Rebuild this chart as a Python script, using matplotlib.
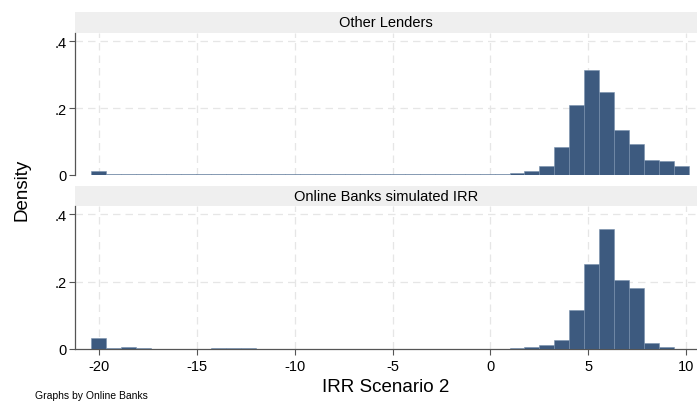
import numpy as np
import matplotlib
matplotlib.use("Agg")
import matplotlib.pyplot as plt

plt.rcParams['font.family'] = ['Liberation Sans', 'DejaVu Sans']

# Histogram bins shared by both panels
bin_start = -20.4
bin_width = 0.7635
n_bins = 40

panel_titles = ["Other Lenders", "Online Banks simulated IRR"]

other_lenders = [
    0.012, 0.002, 0.002, 0.002, 0.002, 0.002, 0.003, 0.002, 0.002, 0.002,
    0.002, 0.002, 0.002, 0.002, 0.002, 0.002, 0.002, 0.002, 0.002, 0.002,
    0.003, 0.002, 0.002, 0.002, 0.002, 0.003, 0.002, 0.002, 0.005, 0.011,
    0.027, 0.083, 0.209, 0.315, 0.248, 0.134, 0.092, 0.046, 0.041, 0.028,
]

online_banks = [
    0.034, 0.004, 0.006, 0.004, 0.001, 0.001, 0.001, 0.001, 0.003, 0.004,
    0.003, 0.001, 0.001, 0.001, 0.001, 0.001, 0.001, 0.001, 0.001, 0.001,
    0.001, 0.001, 0.001, 0.001, 0.001, 0.001, 0.001, 0.001, 0.003, 0.005,
    0.012, 0.026, 0.117, 0.252, 0.357, 0.205, 0.182, 0.019, 0.005, 0.000,
]

x_ticks = [-20, -15, -10, -5, 0, 5, 10]
x_tick_labels = ["-20", "-15", "-10", "-5", "0", "5", "10"]
y_ticks = [0, 0.2, 0.4]
y_tick_labels = ["0", ".2", ".4"]

W, H = 697, 402
fig = plt.figure(figsize=(W / 100, H / 100), dpi=100)
fig.patch.set_facecolor("white")

bar_color = "#3d5a7f"
edge_color = "#7890ad"
grid_color = "#e6e6e6"
strip_color = "#efefef"

left_px, right_px = 75, 697
panels = [
    # (strip top, strip bottom, plot bottom)
    (13, 34, 176),
    (187, 207, 350),
]

edges = bin_start + bin_width * np.arange(n_bins + 1)
lefts = edges[:-1]

def px_box(x0, y0, x1, y1):
    return [x0 / W, 1 - y1 / H, (x1 - x0) / W, (y1 - y0) / H]

for k, (title, dens) in enumerate(zip(panel_titles, [other_lenders, online_banks])):
    s_top, s_bot, p_bot = panels[k]
    # strip with panel title
    sax = fig.add_axes(px_box(left_px, s_top, right_px, s_bot))
    sax.set_facecolor(strip_color)
    for sp in sax.spines.values():
        sp.set_visible(False)
    sax.set_xticks([])
    sax.set_yticks([])
    sax.text(0.5, 0.5, title, ha="center", va="center", fontsize=10.5,
             transform=sax.transAxes)

    ax = fig.add_axes(px_box(left_px, s_bot, right_px, p_bot))
    ax.set_facecolor("white")
    ax.bar(lefts, dens, width=bin_width, align="edge", color=bar_color,
           edgecolor=edge_color, linewidth=0.4, zorder=3)
    ax.set_xlim(-21.23, 10.56)
    ax.set_ylim(0, 0.425)
    ax.set_xticks(x_ticks)
    ax.set_yticks(y_ticks)
    ax.set_yticklabels(y_tick_labels, fontsize=10.5)
    for v in x_ticks:
        ax.axvline(v, color=grid_color, lw=0.9, ls=(0, (6, 4)), zorder=1)
    for v in [0.2, 0.4]:
        ax.axhline(v, color=grid_color, lw=0.9, ls=(0, (6, 4)), zorder=1)
    for side in ["top", "right"]:
        ax.spines[side].set_visible(False)
    ax.spines["left"].set_color("#555555")
    ax.spines["left"].set_linewidth(0.9)
    ax.tick_params(axis="y", length=4, width=0.8, color="#555555", pad=2)
    if k == 0:
        ax.spines["bottom"].set_visible(False)
        ax.tick_params(axis="x", bottom=False, labelbottom=False)
    else:
        ax.spines["bottom"].set_color("#555555")
        ax.spines["bottom"].set_linewidth(0.9)
        ax.set_xticklabels(x_tick_labels, fontsize=10.5)
        ax.tick_params(axis="x", length=4, width=0.8, color="#555555", pad=3)
        ax.set_xlabel("IRR Scenario 2", fontsize=13.5, labelpad=4)

fig.text(22 / W, 1 - 190 / H, "Density", rotation=90, ha="center",
         va="center", fontsize=13.5)
fig.text(35 / W, 1 - 401 / H, "Graphs by Online Banks", ha="left",
         va="bottom", fontsize=7.5)

fig.savefig("out.png", dpi=100)
